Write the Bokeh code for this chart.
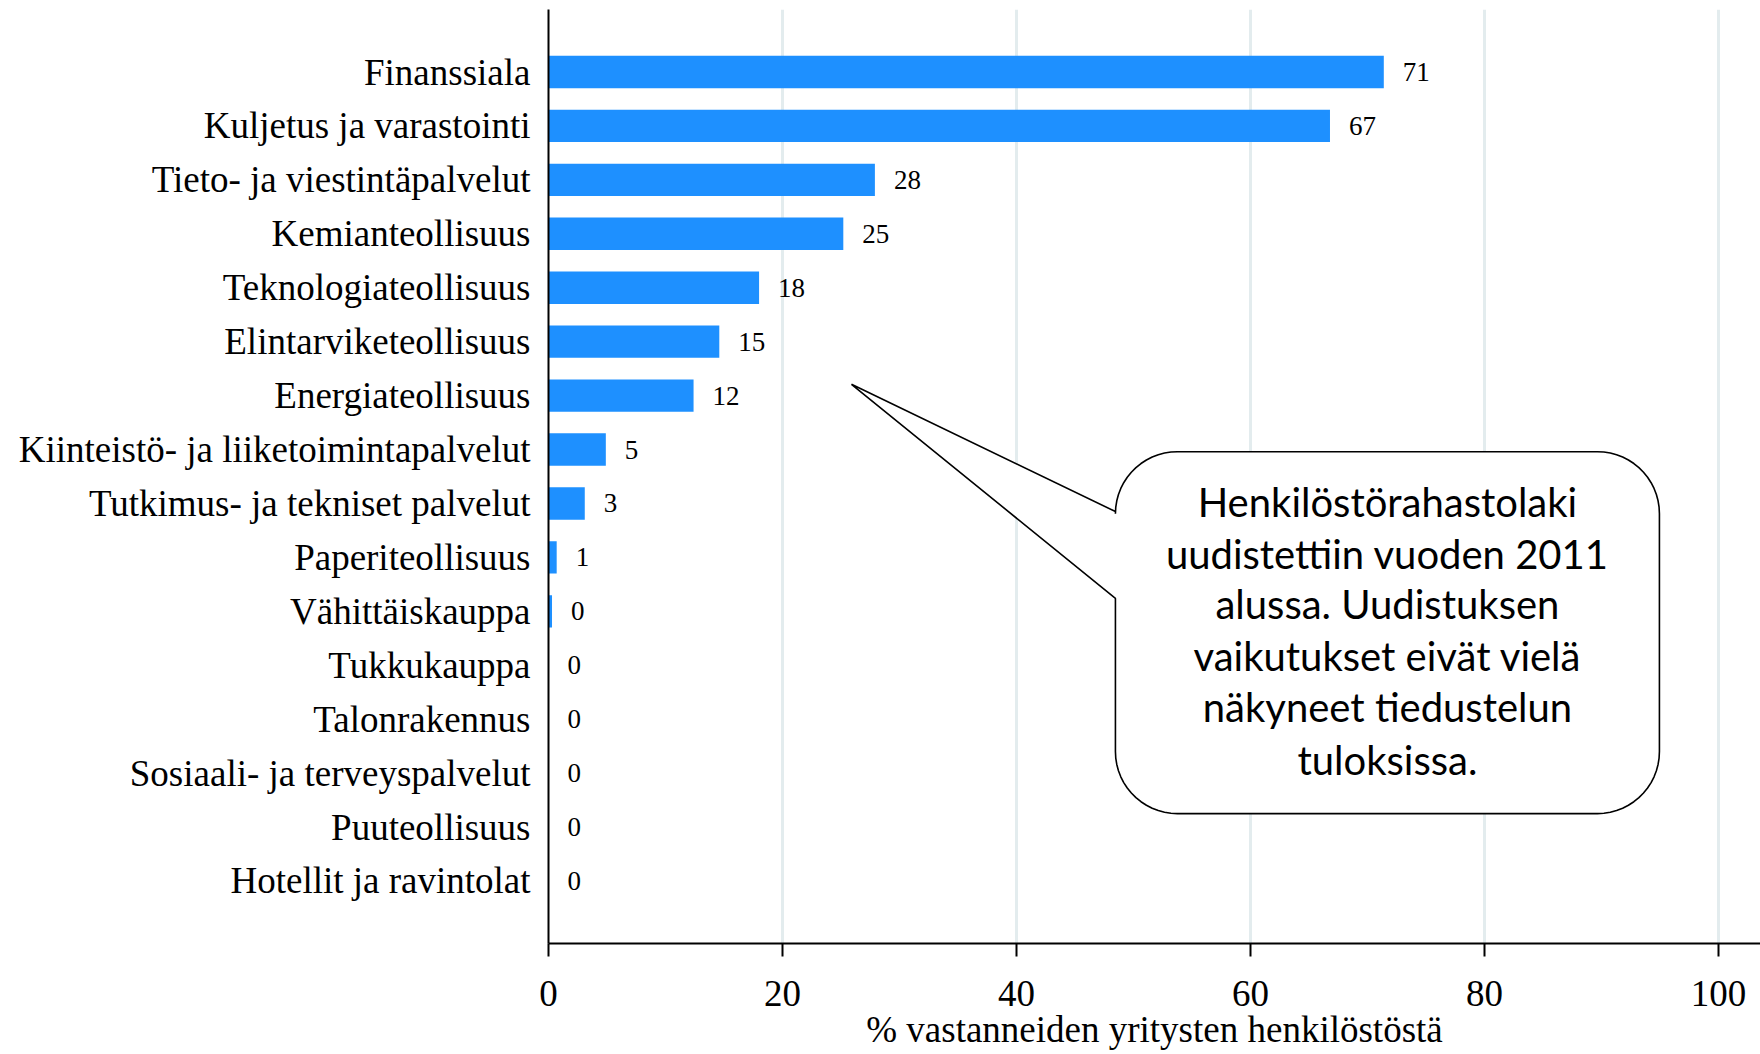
import numpy as np
from bokeh.plotting import figure
from bokeh.models import FactorRange, Range1d, ColumnDataSource, Label, FixedTicker
from bokeh.core.properties import value
from bokeh.embed import file_html
from bokeh.resources import INLINE

categories = ["Finanssiala", "Kuljetus ja varastointi", "Tieto- ja viestintäpalvelut",
              "Kemianteollisuus", "Teknologiateollisuus", "Elintarviketeollisuus",
              "Energiateollisuus", "Kiinteistö- ja liiketoimintapalvelut",
              "Tutkimus- ja tekniset palvelut", "Paperiteollisuus", "Vähittäiskauppa",
              "Tukkukauppa", "Talonrakennus", "Sosiaali- ja terveyspalvelut",
              "Puuteollisuus", "Hotellit ja ravintolat"]
values = [71.4, 66.8, 27.9, 25.2, 18.0, 14.6, 12.4, 4.9, 3.1, 0.7, 0.3, 0, 0, 0, 0, 0]
value_labels = ["71", "67", "28", "25", "18", "15", "12", "5", "3", "1", "0", "0", "0", "0", "0", "0"]
x_ticks = [0, 20, 40, 60, 80, 100]
x_title = "% vastanneiden yritysten henkilöstöstä"
note_lines = ["Henkilöstörahastolaki", "uudistettiin vuoden 2011", "alussa. Uudistuksen",
              "vaikutukset eivät vielä", "näkyneet tiedustelun", "tuloksissa."]

SERIF = "Liberation Serif"

p = figure(width=1760, height=1054,
           y_range=FactorRange(factors=categories[::-1], range_padding=0.659,
                               range_padding_units="absolute"),
           x_range=Range1d(0, 103.6),
           output_backend="svg", toolbar_location=None,
           min_border_left=548, min_border_right=0, min_border_top=9, min_border_bottom=111)
p.outline_line_color = None
p.background_fill_color = "white"

src = ColumnDataSource(dict(cat=categories, val=values, lab=value_labels))
p.hbar(y="cat", left=0, right="val", height=0.6, source=src,
       fill_color="#1E90FF", line_color=None)
p.text(x="val", y="cat", text="lab", source=src, x_offset=19,
       text_baseline="middle", text_align="left",
       text_font=value(SERIF), text_font_size="27px", text_color="black")

# axes
xa = p.xaxis[0]
xa.ticker = FixedTicker(ticks=x_ticks)
xa.axis_label = x_title
xa.axis_label_text_font = SERIF
xa.axis_label_text_font_size = "37px"
xa.axis_label_text_font_style = "normal"
xa.axis_label_text_color = "black"
xa.axis_label_standoff = 0
xa.major_label_text_font = SERIF
xa.major_label_text_font_size = "37px"
xa.major_label_text_color = "black"
xa.major_label_standoff = 24
xa.axis_line_color = "black"
xa.axis_line_width = 2
xa.major_tick_line_color = "black"
xa.major_tick_line_width = 2
xa.major_tick_out = 13
xa.major_tick_in = 0
xa.minor_tick_line_color = None

ya = p.yaxis[0]
ya.major_label_text_font = SERIF
ya.major_label_text_font_size = "37px"
ya.major_label_text_color = "black"
ya.major_label_standoff = 12
ya.axis_line_color = "black"
ya.axis_line_width = 2
ya.major_tick_line_color = None
ya.minor_tick_line_color = None

p.ygrid.grid_line_color = None
p.xgrid.grid_line_color = "#E3ECEE"
p.xgrid.grid_line_width = 3

# callout (data-space geometry)
l, r, b, t = 48.46, 94.96, 1.75, 8.46
rx, ry = 5.3, 1.15
tip = (25.9, 9.71)
y_up, y_low = 7.35, 5.74

def arc(cx, cy, a0, a1, n=16):
    a = np.linspace(np.radians(a0), np.radians(a1), n)
    return list(cx + rx * np.cos(a)), list(cy + ry * np.sin(a))

xs, ys = [], []
for cx, cy, a0, a1 in [(l + rx, t - ry, 180, 90), (r - rx, t - ry, 90, 0),
                       (r - rx, b + ry, 0, -90), (l + rx, b + ry, -90, -180)]:
    ax_, ay_ = arc(cx, cy, a0, a1)
    xs += ax_
    ys += ay_

ox = [l] + xs + [l, tip[0], l]
oy = [y_up] + ys + [y_low, tip[1], y_up]
p.patch(ox, oy, fill_color="white", line_color="black", line_width=1.6)

line_ys = [7.52, 6.57, 5.63, 4.68, 3.72, 2.75]
for txt, yy in zip(note_lines, line_ys):
    p.add_layout(Label(x=(l + r) / 2, y=yy, text=txt, text_align="center",
                       text_baseline="middle", text_font="Lato",
                       text_font_size="40px", text_color="black"))

open("out.html", "w").write(file_html(p, INLINE))
